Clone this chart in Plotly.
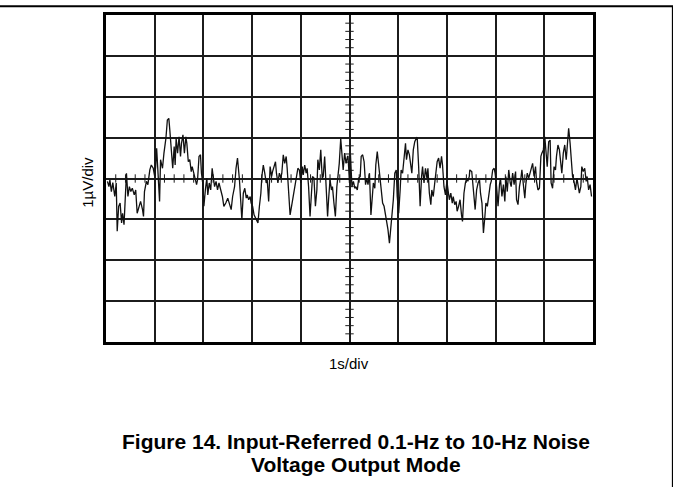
import plotly.graph_objects as go

# Oscilloscope capture of 0.1-Hz to 10-Hz input-referred noise
# time in seconds (1 s/div), amplitude in microvolts (1 uV/div)
t_s = [
    0.03, 0.06, 0.08, 0.11, 0.14, 0.18, 0.21, 0.23, 0.26, 0.29, 0.32, 0.34, 0.37, 0.40, 0.42, 0.45,
    0.48, 0.51, 0.54, 0.58, 0.61, 0.64, 0.68, 0.71, 0.75, 0.77, 0.79, 0.83, 0.86, 0.90, 0.93, 0.97,
    1.00, 1.02, 1.04, 1.07, 1.10, 1.12, 1.16, 1.19, 1.23, 1.26, 1.29, 1.31, 1.34, 1.37, 1.40, 1.42,
    1.44, 1.47, 1.50, 1.53, 1.55, 1.58, 1.61, 1.64, 1.66, 1.69, 1.72, 1.75, 1.77, 1.80, 1.83, 1.86,
    1.88, 1.91, 1.94, 1.96, 1.99, 2.01, 2.04, 2.07, 2.09, 2.12, 2.15, 2.18, 2.20, 2.23, 2.26, 2.29,
    2.32, 2.36, 2.39, 2.42,
    2.46, 2.50, 2.53, 2.57, 2.60, 2.64, 2.67, 2.70, 2.74, 2.77, 2.79, 2.82, 2.85, 2.88, 2.90, 2.93,
    2.96, 2.98, 3.01, 3.04, 3.07, 3.09, 3.12, 3.15, 3.18, 3.20, 3.23, 3.26, 3.29, 3.31, 3.34, 3.37,
    3.40, 3.42, 3.45, 3.48, 3.50, 3.53, 3.56, 3.59, 3.61, 3.64, 3.67, 3.70, 3.72, 3.75, 3.78, 3.81,
    3.83, 3.86, 3.89, 3.92, 3.94, 3.97, 4.00, 4.03, 4.05, 4.08, 4.11, 4.13, 4.16, 4.19, 4.22, 4.24,
    4.27, 4.30, 4.33, 4.35, 4.38, 4.41, 4.44, 4.46, 4.49, 4.52, 4.55, 4.57, 4.60, 4.63, 4.65, 4.68,
    4.71, 4.74, 4.76, 4.79, 4.82, 4.85, 4.87, 4.90, 4.93, 4.96,
    4.97, 5.00, 5.02, 5.05, 5.08, 5.11, 5.13, 5.16, 5.19, 5.22, 5.24, 5.27, 5.30, 5.33, 5.35, 5.38,
    5.41, 5.44, 5.46, 5.49, 5.52, 5.54, 5.57, 5.60, 5.63, 5.65, 5.68, 5.71, 5.74, 5.76, 5.79, 5.82,
    5.85, 5.87, 5.90, 5.93, 5.96, 5.98, 6.01, 6.04, 6.06, 6.09, 6.12, 6.15, 6.17, 6.20, 6.23, 6.26,
    6.28, 6.31, 6.34, 6.37, 6.39, 6.42, 6.45, 6.48, 6.50, 6.53, 6.56, 6.59, 6.61, 6.64, 6.67, 6.69,
    6.72, 6.75, 6.78, 6.80, 6.83, 6.86, 6.89, 6.91, 6.94, 6.97, 7.00, 7.02, 7.05, 7.08, 7.11, 7.13,
    7.16, 7.19, 7.21, 7.24, 7.27, 7.30, 7.32, 7.35, 7.38, 7.41, 7.43, 7.46,
    7.47, 7.51, 7.53, 7.56, 7.58, 7.61, 7.64, 7.67, 7.69, 7.72, 7.75, 7.78, 7.80, 7.83, 7.86, 7.89,
    7.91, 7.94, 7.97, 7.99, 8.02, 8.05, 8.08, 8.10, 8.13, 8.16, 8.19, 8.21, 8.24, 8.27, 8.30, 8.32,
    8.35, 8.38, 8.41, 8.43, 8.46, 8.49, 8.52, 8.54, 8.57, 8.60, 8.62, 8.65, 8.68, 8.71, 8.73, 8.76,
    8.79, 8.82, 8.84, 8.87, 8.90, 8.93, 8.95, 8.98, 9.01, 9.04, 9.06, 9.09, 9.12, 9.14, 9.17, 9.20,
    9.23, 9.25, 9.28, 9.31, 9.34, 9.36, 9.39, 9.42, 9.45, 9.47, 9.50, 9.53, 9.56, 9.58, 9.61, 9.64,
    9.67, 9.69, 9.72, 9.75, 9.77, 9.80, 9.83, 9.86, 9.88, 9.91, 9.94, 9.97,
]
noise_uv = [
    -0.07, -0.20, -0.03, -0.32, -0.10, -0.44, -0.11, -1.29, -0.68, -0.60, -1.09, -0.85, -1.13, -0.36, 0.13, -0.44,
    -0.20, -0.32, -0.24, -0.40, -0.28, -0.85, -0.68, -0.56, -0.76, -0.93, -0.32, -0.07, -0.15, 0.21, 0.33, 0.25,
    0.05, 0.29, 0.74, 0.13, -0.56, 0.46, 0.25, 0.62, 0.98, 1.43, 1.47, 1.19, 0.58, 0.25, 0.78, 0.33,
    0.98, 0.62, 1.02, 0.54, 0.86, 1.07, 0.62, 1.02, 0.86, 0.41, 0.46, 0.17, 0.29, 0.13, -0.07, -0.15,
    -0.03, 0.54, 0.58, 0.13, -0.15, -0.68, -0.28, 0.01, -0.40, -0.11, -0.28, 0.25, 0.05, -0.20, -0.07, -0.28,
    -0.11, -0.28, -0.44, -0.68,
    -0.60, -0.48, -0.60, -0.76, -0.44, -0.20, 0.25, 0.50, -0.03, -0.52, -1.01, -0.36, -0.24, -0.48, -0.40, -0.52,
    -0.44, -0.60, -0.68, -0.89, -0.97, -1.05, -1.09, -0.68, -0.36, 0.05, 0.33, 0.13, -0.11, -0.03, -0.56, 0.29,
    0.05, 0.17, 0.33, 0.41, 0.13, -0.11, 0.13, 0.01, 0.13, 0.58, 0.37, 0.54, 0.25, -0.44, -0.89, -0.68,
    -0.52, -0.32, -0.07, 0.17, 0.25, 0.21, -0.11, 0.29, 0.09, 0.33, 0.13, 0.25, -0.20, -0.93, -0.44, 0.05,
    0.01, -0.68, -0.28, 0.46, 0.21, 0.70, 0.01, 0.05, 0.54, -0.28, -0.93, -0.52, -0.03, -0.28, -0.20, -0.60,
    -0.93, -0.20, 0.01, 0.37, 0.98, 0.54, 0.21, 0.62, 0.37, 0.54,
    0.54, -0.11, 0.58, -0.20, -0.07, -0.24, -0.20, -0.28, 0.01, 0.05, 0.54, 0.58, 0.41, -0.15, 0.01, -0.15,
    0.13, -0.89, -0.44, -0.11, -0.24, 0.33, 0.66, 0.29, 0.01, -0.20, -0.60, -0.68, -0.89, -1.05, -1.25, -1.58,
    -1.17, -0.76, -0.52, 0.13, 0.21, -0.44, -0.85, -0.28, 0.21, 0.13, 0.46, 0.86, 0.46, 0.70, 0.58, 0.29,
    0.13, 0.70, 0.90, 0.98, 1.01, 0.29, -0.68, 0.05, 0.29, -0.11, 0.25, 0.01, 0.25, -0.36, -0.64, -0.28,
    -0.44, -0.11, 0.13, 0.41, 0.50, 0.25, 0.54, 0.33, -0.20, -0.40, -0.07, -0.28, -0.52, -0.36, -0.60, -0.44,
    -0.64, -0.56, -0.80, -0.68, -0.52, -0.89, -1.05, -0.36, -0.11, 0.01, -0.07, 0.05,
    0.21, 0.17, -0.15, -0.60, -0.76, -0.28, -0.11, -0.03, -0.36, -0.60, -1.33, -0.93, -0.60, -0.68, -0.36, -0.15,
    -0.07, 0.21, 0.25, 0.13, -0.20, -0.68, -0.15, 0.01, -0.44, -0.15, -0.56, 0.05, -0.32, 0.21, -0.11, -0.20,
    0.13, -0.15, 0.17, -0.52, -0.64, -0.20, 0.01, 0.21, -0.15, -0.48, -0.15, 0.13, 0.01, 0.17, 0.29, 0.37,
    0.05, 0.29, -0.07, -0.28, -0.24, 0.54, 0.62, 0.70, 1.02, 0.54, 0.29, 0.90, 0.94, -0.11, -0.24, 0.29,
    0.21, 0.54, 0.82, 0.70, 0.33, 0.13, 0.62, 0.82, 0.46, 0.78, 1.23, 0.86, 0.25, 0.05, -0.07, -0.28,
    0.01, -0.11, -0.36, -0.20, 0.29, 0.17, 0.25, -0.07, 0.05, -0.28, -0.15, -0.44,
]

x_label = "1s/div"
y_label = "1µV/div"
caption_lines = [
    "Figure 14. Input-Referred 0.1-Hz to 10-Hz Noise",
    "Voltage Output Mode",
]

# graticule: 10 horizontal by 8 vertical divisions, 5 subdivisions on the centre axes
x_divs = 10
y_divs = 8
sub = 5
x_center = x_divs / 2
sub_x = [i / sub for i in range(1, x_divs * sub) if i % sub]
sub_y = [-y_divs / 2 + i / sub for i in range(1, y_divs * sub) if i % sub]

ink = "#1c1c1c"

fig = go.Figure()

fig.add_trace(go.Scatter(
    x=sub_x, y=[0] * len(sub_x), mode="markers", hoverinfo="skip",
    marker=dict(symbol="line-ns", size=6, line=dict(width=1, color=ink)),
))
fig.add_trace(go.Scatter(
    x=[x_center] * len(sub_y), y=sub_y, mode="markers", hoverinfo="skip",
    marker=dict(symbol="line-ew", size=6, line=dict(width=1, color=ink)),
))
fig.add_trace(go.Scatter(
    x=t_s, y=noise_uv, mode="lines",
    line=dict(color="#111111", width=1.3),
))

axis_common = dict(
    showgrid=True, gridcolor=ink, gridwidth=1.6,
    zeroline=False, showticklabels=False, ticks="",
    showline=True, linecolor="#000000", linewidth=3, mirror=True,
    fixedrange=True,
)
fig.update_xaxes(range=[0, x_divs], dtick=1, **axis_common)
fig.update_yaxes(range=[-y_divs / 2, y_divs / 2], dtick=1, **axis_common)

# page rule along the top and right side
fig.add_shape(type="line", xref="paper", yref="paper",
              x0=-0.22, x1=1.17, y0=1.027, y1=1.027,
              line=dict(color="#000000", width=2))
fig.add_shape(type="line", xref="paper", yref="paper",
              x0=1.164, x1=1.164, y0=-0.45, y1=1.027,
              line=dict(color="#000000", width=2))

font_reg = dict(family="Liberation Sans, Arial, sans-serif", size=15, color="#000000")
font_bold = dict(family="Liberation Sans, Arial, sans-serif", size=21, color="#000000")

fig.add_annotation(text=x_label, xref="paper", yref="paper", x=0.499, y=-0.067,
                   showarrow=False, font=font_reg, xanchor="center", yanchor="middle")
fig.add_annotation(text=y_label, xref="paper", yref="paper", x=-0.037, y=0.49,
                   showarrow=False, font=font_reg, textangle=-90,
                   xanchor="center", yanchor="middle")
fig.add_annotation(text="<b>%s</b>" % caption_lines[0], xref="paper", yref="paper",
                   x=0.513, y=-0.303, showarrow=False, font=font_bold,
                   xanchor="center", yanchor="middle")
fig.add_annotation(text="<b>%s</b>" % caption_lines[1], xref="paper", yref="paper",
                   x=0.513, y=-0.376, showarrow=False, font=font_bold,
                   xanchor="center", yanchor="middle")

fig.update_layout(
    width=673, height=487,
    margin=dict(l=106, r=80, t=12, b=145),
    paper_bgcolor="#ffffff", plot_bgcolor="#ffffff",
    showlegend=False,
)

fig.write_html("out.html", config={"displayModeBar": False})
